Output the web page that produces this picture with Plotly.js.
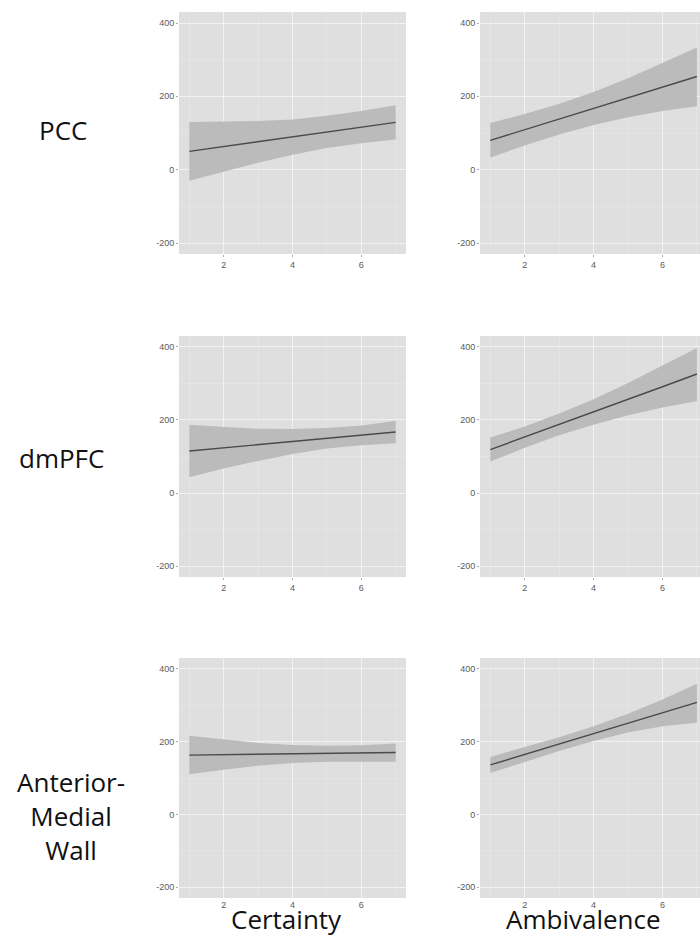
<!DOCTYPE html>
<html>
<head>
<meta charset="utf-8">
<script src="https://cdn.plot.ly/plotly-3.0.1.min.js"></script>
<style>html,body{margin:0;padding:0;background:#fff;}#chart{width:700px;height:938px;}</style>
</head>
<body>
<div id="chart"></div>
<script>
// ---- data ----
const xs = [1, 2, 3, 4, 5, 6, 7];
const rowLabels = ["PCC", "dmPFC", "Anterior-<br>Medial<br>Wall"];
const colLabels = ["Certainty", "Ambivalence"];
const xMajor = [2, 4, 6];
const xMinor = [1, 3, 5, 7];
const yMajor = [-200, 0, 200, 400];
const yMajorText = ["-200", "0", "200", "400"];
const yMinor = [-100, 100, 300];

// PCC
const pccCertFit = [50, 63, 76, 89, 103, 116, 129];
const pccCertHi  = [130, 131, 133, 137, 147, 160, 176];
const pccCertLo  = [-30, -5, 19, 41, 59, 72, 82];
const pccAmbFit  = [80, 109, 138, 167, 196, 225, 254];
const pccAmbHi   = [127, 152, 180, 212, 249, 290, 333];
const pccAmbLo   = [33, 66, 96, 122, 143, 160, 173];
// dmPFC
const dmCertFit = [115, 124, 132, 141, 150, 158, 167];
const dmCertHi  = [187, 181, 176, 175, 178, 185, 198];
const dmCertLo  = [43, 67, 88, 107, 122, 131, 136];
const dmAmbFit  = [119, 153, 188, 222, 257, 291, 326];
const dmAmbHi   = [152, 182, 218, 257, 301, 348, 397];
const dmAmbLo   = [86, 124, 158, 187, 213, 234, 252];
// Anterior-Medial Wall
const amwCertFit = [163, 164, 165, 166, 167, 168, 170];
const amwCertHi  = [216, 205, 196, 191, 189, 190, 195];
const amwCertLo  = [110, 123, 134, 141, 145, 146, 145];
const amwAmbFit  = [136, 165, 193, 222, 251, 279, 308];
const amwAmbHi   = [158, 185, 212, 242, 277, 316, 359];
const amwAmbLo   = [114, 145, 174, 202, 225, 242, 252];

const panels = [
  {fit: pccCertFit, hi: pccCertHi, lo: pccCertLo, row: 0, col: 0},
  {fit: pccAmbFit,  hi: pccAmbHi,  lo: pccAmbLo,  row: 0, col: 1},
  {fit: dmCertFit,  hi: dmCertHi,  lo: dmCertLo,  row: 1, col: 0},
  {fit: dmAmbFit,   hi: dmAmbHi,   lo: dmAmbLo,   row: 1, col: 1},
  {fit: amwCertFit, hi: amwCertHi, lo: amwCertLo, row: 2, col: 0},
  {fit: amwAmbFit,  hi: amwAmbHi,  lo: amwAmbLo,  row: 2, col: 1}
];

// ---- layout geometry (pixels) ----
const W = 700, H = 938;
const colPx = [[179, 406], [480, 700]];
const colRange = [[0.7, 7.3], [0.7, 7.09]];
const rowPx = [[12, 254], [336, 577], [658, 898]];
const yRange = [-230, 430];

const bg = "#DFDFDF";
const ribbon = "#BBBBBB";
const lineCol = "#4a4a4a";
const grid = "rgba(255,255,255,0.6)";
const gridMinor = "rgba(255,255,255,0.3)";
const tickFont = {family: "Liberation Sans, Arial, sans-serif", size: 9, color: "#5a5a5a"};

const traces = [];
const layout = {
  width: W, height: H,
  margin: {l: 0, r: 0, t: 0, b: 0},
  paper_bgcolor: "#ffffff",
  plot_bgcolor: bg,
  showlegend: false,
  annotations: [],
  shapes: []
};

panels.forEach((p, i) => {
  const n = i + 1;
  const xa = n === 1 ? "x" : "x" + n;
  const ya = n === 1 ? "y" : "y" + n;
  const xk = n === 1 ? "xaxis" : "xaxis" + n;
  const yk = n === 1 ? "yaxis" : "yaxis" + n;
  const cp = colPx[p.col], rp = rowPx[p.row];
  const lastRow = p.row === 2;

  traces.push({
    x: xs.concat(xs.slice().reverse()),
    y: p.hi.concat(p.lo.slice().reverse()),
    xaxis: xa, yaxis: ya,
    type: "scatter", mode: "lines", fill: "toself",
    fillcolor: ribbon, line: {width: 0, color: ribbon},
    hoverinfo: "skip"
  });
  traces.push({
    x: xs, y: p.fit, xaxis: xa, yaxis: ya,
    type: "scatter", mode: "lines",
    line: {color: lineCol, width: 1.4}
  });

  layout[xk] = {
    domain: [cp[0] / W, cp[1] / W],
    range: colRange[p.col],
    anchor: ya,
    tickvals: xMajor, ticktext: xMajor.map(String),
    showgrid: true, gridcolor: grid, gridwidth: 1,
    minor: {tickvals: xMinor, showgrid: true, gridcolor: gridMinor, gridwidth: 0.6},
    zeroline: false, showline: false,
    ticks: lastRow ? "" : "outside", ticklen: 2, tickcolor: "#aaaaaa",
    tickfont: tickFont, fixedrange: true
  };
  layout[yk] = {
    domain: [(H - rp[1]) / H, (H - rp[0]) / H],
    range: yRange,
    anchor: xa,
    tickvals: yMajor, ticktext: yMajorText,
    showgrid: true, gridcolor: grid, gridwidth: 1,
    minor: {tickvals: yMinor, showgrid: true, gridcolor: gridMinor, gridwidth: 0.6},
    zeroline: false, showline: false,
    ticks: "outside", ticklen: 2, tickcolor: "#aaaaaa",
    tickfont: tickFont, fixedrange: true
  };
});

const bigFont = {family: "Open Sans, Noto Sans, sans-serif", size: 26, color: "#111111"};
const rowLabelPos = [[63, 130], [62, 458], [71, 816]];
rowLabels.forEach((t, r) => {
  layout.annotations.push({
    text: t, xref: "paper", yref: "paper",
    x: rowLabelPos[r][0] / W, y: (H - rowLabelPos[r][1]) / H,
    xanchor: "center", yanchor: "middle", showarrow: false,
    font: bigFont, align: "center"
  });
});
const colLabelX = [286, 583];
colLabels.forEach((t, c) => {
  layout.annotations.push({
    text: t, xref: "paper", yref: "paper",
    x: colLabelX[c] / W, y: 0,
    xanchor: "center", yanchor: "bottom", showarrow: false,
    borderpad: 0,
    font: bigFont
  });
});

Plotly.newPlot("chart", traces, layout, {displayModeBar: false, staticPlot: true});
</script>
</body>
</html>
